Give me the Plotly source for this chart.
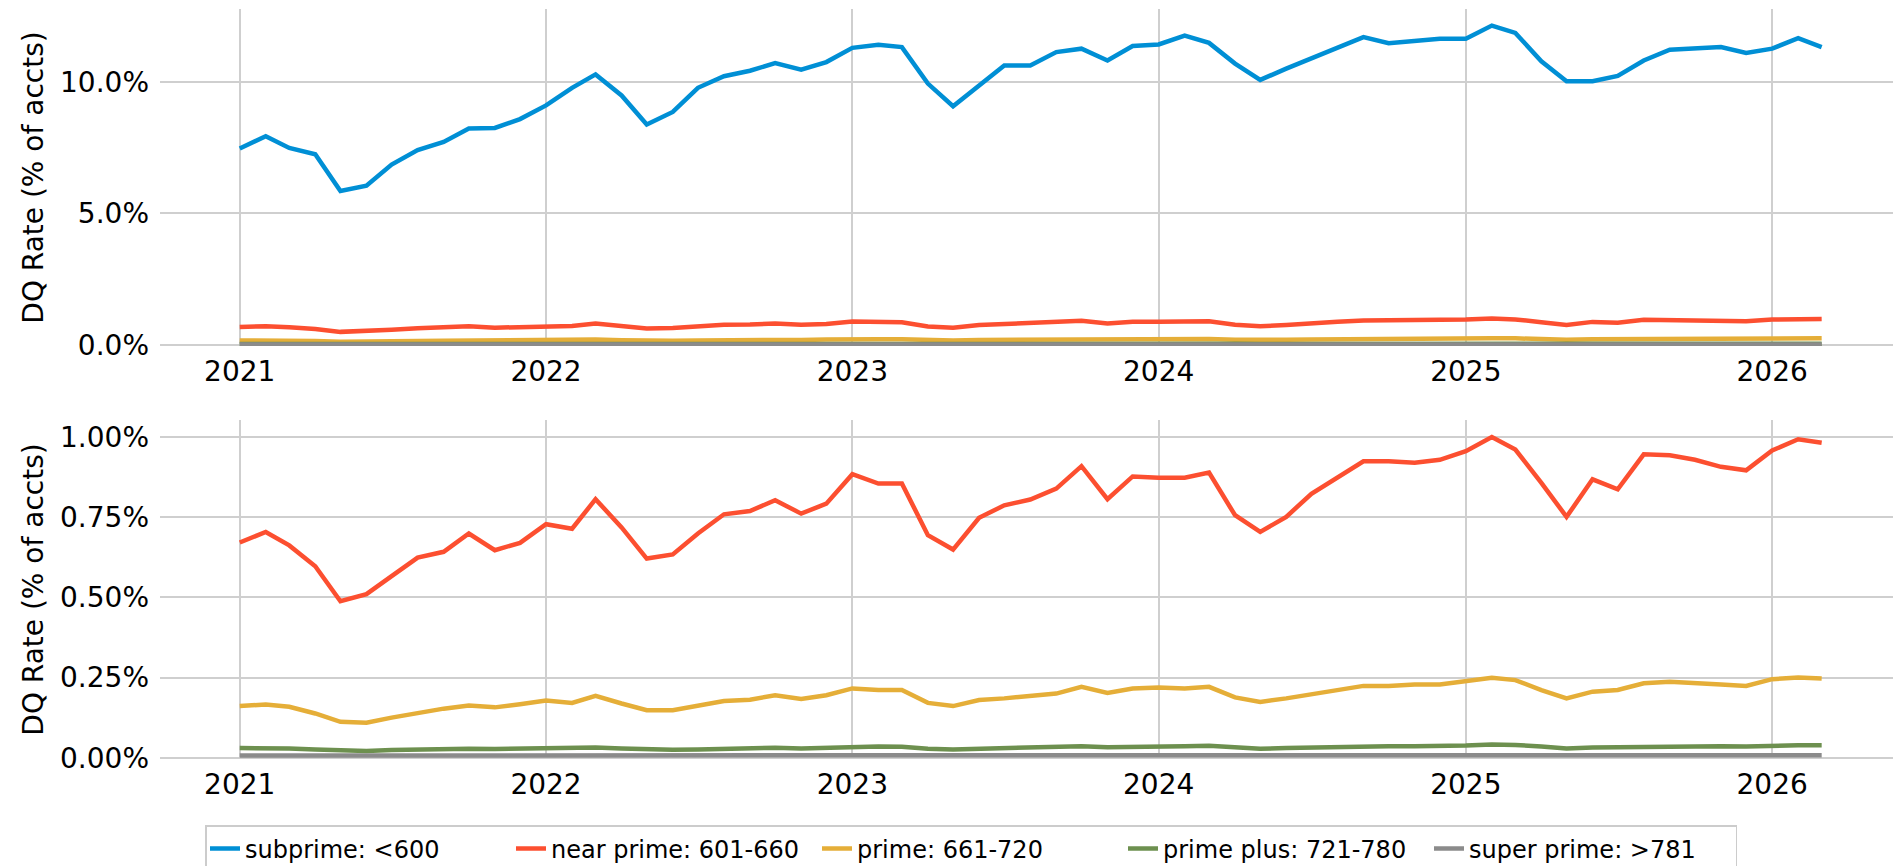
import pandas as pd
import plotly.graph_objects as go
from plotly.subplots import make_subplots

months = pd.date_range("2021-01-01", periods=63, freq="MS")

subprime = [7.47, 7.94, 7.49, 7.25, 5.85, 6.05, 6.86, 7.41, 7.72, 8.23, 8.25, 8.59,
            9.11, 9.78, 10.29, 9.49, 8.38, 8.86, 9.78, 10.22, 10.43, 10.72, 10.47, 10.76,
            11.30, 11.42, 11.33, 9.94, 9.08, 9.87, 10.63, 10.63, 11.14, 11.27, 10.82, 11.37,
            11.43, 11.77, 11.49, 10.70, 10.08, 10.51, 10.91, 11.33, 11.71, 11.48, 11.58, 11.65,
            11.65, 12.15, 11.87, 10.79, 10.03, 10.03, 10.23, 10.82, 11.23, 11.30, 11.33, 11.11,
            11.27, 11.67, 11.33]

near_prime = [0.671, 0.704, 0.662, 0.597, 0.488, 0.510, 0.566, 0.624, 0.642, 0.699, 0.647, 0.670,
              0.728, 0.714, 0.806, 0.718, 0.621, 0.634, 0.699, 0.759, 0.769, 0.803, 0.761, 0.792,
              0.884, 0.855, 0.855, 0.694, 0.649, 0.748, 0.787, 0.805, 0.839, 0.909, 0.806, 0.877,
              0.873, 0.873, 0.889, 0.756, 0.704, 0.751, 0.823, 0.873, 0.924, 0.924, 0.920, 0.929,
              0.956, 1.000, 0.961, 0.857, 0.751, 0.868, 0.837, 0.946, 0.943, 0.929, 0.907, 0.896,
              0.958, 0.993, 0.982]

prime = [0.161, 0.166, 0.159, 0.138, 0.112, 0.109, 0.125, 0.140, 0.153, 0.163, 0.157, 0.167,
         0.178, 0.171, 0.193, 0.169, 0.148, 0.148, 0.161, 0.177, 0.181, 0.195, 0.183, 0.195,
         0.216, 0.211, 0.211, 0.171, 0.161, 0.180, 0.185, 0.192, 0.200, 0.221, 0.202, 0.216,
         0.219, 0.216, 0.221, 0.188, 0.174, 0.185, 0.198, 0.211, 0.224, 0.224, 0.228, 0.228,
         0.240, 0.249, 0.242, 0.211, 0.185, 0.206, 0.211, 0.232, 0.237, 0.234, 0.228, 0.224,
         0.245, 0.250, 0.247]

prime_plus = [0.030, 0.031, 0.029, 0.026, 0.022, 0.021, 0.024, 0.026, 0.027, 0.028, 0.027, 0.028,
              0.029, 0.028, 0.032, 0.029, 0.026, 0.025, 0.026, 0.028, 0.029, 0.031, 0.029, 0.031,
              0.036, 0.035, 0.034, 0.028, 0.026, 0.028, 0.030, 0.031, 0.033, 0.036, 0.033, 0.035,
              0.036, 0.036, 0.037, 0.031, 0.028, 0.030, 0.032, 0.034, 0.036, 0.036, 0.036, 0.036,
              0.038, 0.041, 0.040, 0.035, 0.029, 0.032, 0.033, 0.035, 0.037, 0.037, 0.036, 0.035,
              0.038, 0.039, 0.039]

super_prime = [0.007, 0.007, 0.007, 0.006, 0.005, 0.005, 0.006, 0.006, 0.006, 0.006, 0.006, 0.006,
               0.006, 0.006, 0.007, 0.006, 0.006, 0.006, 0.006, 0.006, 0.006, 0.007, 0.006, 0.007,
               0.007, 0.007, 0.007, 0.006, 0.006, 0.006, 0.006, 0.007, 0.007, 0.007, 0.007, 0.007,
               0.007, 0.007, 0.007, 0.007, 0.006, 0.006, 0.007, 0.007, 0.007, 0.007, 0.007, 0.007,
               0.008, 0.008, 0.008, 0.007, 0.006, 0.007, 0.007, 0.007, 0.007, 0.007, 0.007, 0.007,
               0.008, 0.008, 0.008]

series_names = ["subprime: <600", "near prime: 601-660", "prime: 661-720",
                "prime plus: 721-780", "super prime: >781"]
series_values = [subprime, near_prime, prime, prime_plus, super_prime]
colors = ["#008fd5", "#fc4f30", "#e5ae38", "#6d904f", "#8b8b8b"]

top_ticks = [0, 5, 10]
top_tick_labels = ["0.0%", "5.0%", "10.0%"]
bottom_ticks = [0, 0.25, 0.5, 0.75, 1.0]
bottom_tick_labels = ["0.00%", "0.25%", "0.50%", "0.75%", "1.00%"]
year_ticks = pd.date_range("2021-01-01", periods=6, freq="YS")
year_labels = ["2021", "2022", "2023", "2024", "2025", "2026"]

W, H = 1893, 866
ML = 160

fig = make_subplots(rows=2, cols=1, shared_xaxes=False, vertical_spacing=0.05)

for name, vals, col in zip(series_names, series_values, colors):
    fig.add_trace(go.Scatter(x=months, y=vals, mode="lines", name=name,
                             line=dict(color=col, width=4.5), legendgroup=name,
                             showlegend=True), row=1, col=1)
for name, vals, col in zip(series_names, series_values, colors):
    fig.add_trace(go.Scatter(x=months, y=vals, mode="lines", name=name,
                             line=dict(color=col, width=4.5), legendgroup=name,
                             showlegend=False), row=2, col=1)

font_family = "DejaVu Sans"
grid_col = "#cfcfcf"

def ydom(top_px, bot_px):
    return [1 - bot_px / H, 1 - top_px / H]

xr = ["2020-09-28", "2026-05-25"]
common_x = dict(range=xr, tickvals=list(year_ticks), ticktext=year_labels,
                showgrid=True, gridcolor=grid_col, gridwidth=2, zeroline=False,
                showline=False, ticks="", ticklabelstandoff=6, automargin=False,
                tickfont=dict(size=28, color="#000000", family=font_family))
fig.update_xaxes(**common_x)

common_y = dict(showgrid=True, gridcolor=grid_col, gridwidth=2, zeroline=False,
                showline=False, ticks="", ticklabelstandoff=10, automargin=False,
                tickfont=dict(size=28, color="#000000", family=font_family),
                title=dict(text="DQ Rate (% of accts)", standoff=8,
                           font=dict(size=28, color="#000000", family=font_family)))

fig.update_yaxes(**common_y)
fig.update_yaxes(row=1, col=1, range=[-0.05, 12.78], tickvals=top_ticks,
                 ticktext=top_tick_labels)
fig.update_yaxes(row=2, col=1, range=[-0.004, 1.053], tickvals=bottom_ticks,
                 ticktext=bottom_tick_labels)

fig.update_layout(
    width=W, height=H,
    margin=dict(l=ML, r=0, t=0, b=0, autoexpand=False),
    paper_bgcolor="white", plot_bgcolor="white",
    font=dict(family=font_family, color="#000000"),
    xaxis=dict(domain=[0, 1]),
    xaxis2=dict(domain=[0, 1]),
    yaxis=dict(domain=ydom(9, 346)),
    yaxis2=dict(domain=ydom(420, 759)),
    legend=dict(orientation="h", x=(205 - ML) / (W - ML), xanchor="left",
                y=1 - 825 / H, yanchor="top",
                bordercolor="#cccccc", borderwidth=1.5, bgcolor="white",
                font=dict(size=24, color="#000000", family=font_family),
                entrywidth=261, entrywidthmode="pixels"),
)

fig.write_html("out.html",
               config={"displayModeBar": False},
               post_script="document.body.style.margin='0';document.body.style.overflow='hidden';")
